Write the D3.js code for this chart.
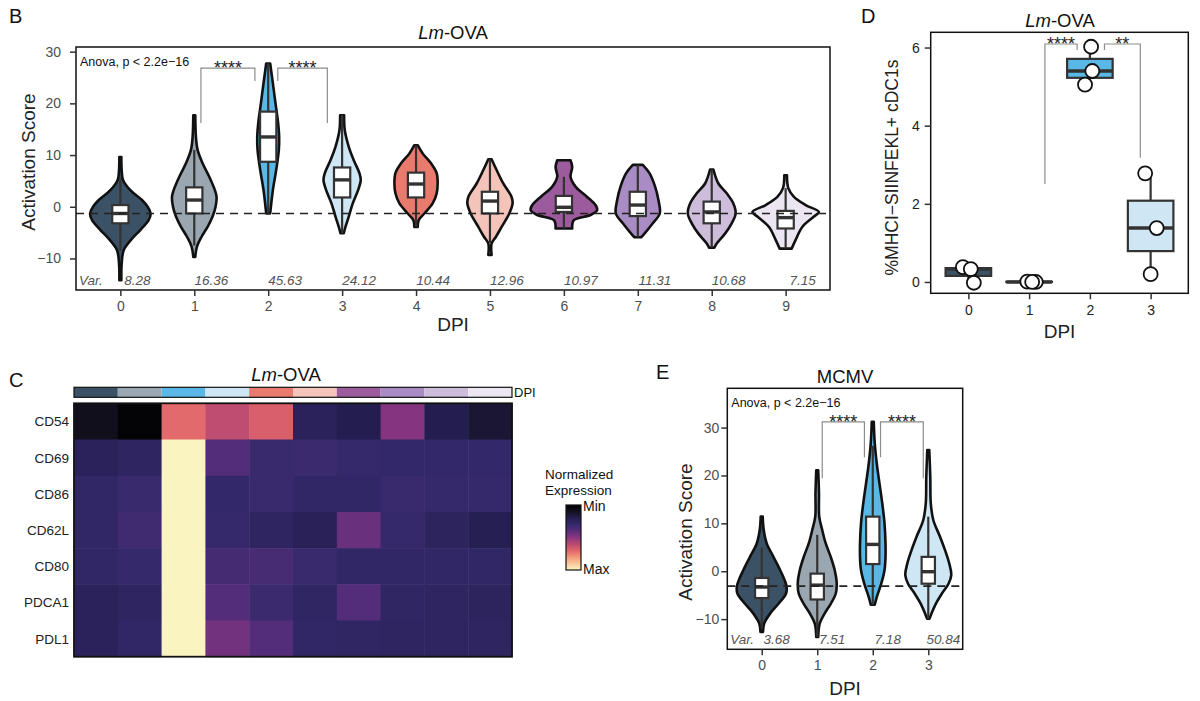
<!DOCTYPE html>
<html>
<head>
<meta charset="utf-8">
<script src="https://cdn.jsdelivr.net/npm/d3@7"></script>
<style>
  body { margin: 0; background: #fff; }
  svg { font-family: "Liberation Sans", Arial, sans-serif; }
</style>
</head>
<body>
<svg id="fig" width="1200" height="701"></svg>
<script>
var svg = d3.select('#fig');

// ---------- data ----------
var dpiB = ["0", "1", "2", "3", "4", "5", "6", "7", "8", "9"];
var dpiColors = ["#3b5266", "#9ba7b0", "#5ab8e6", "#cfe7f5", "#e87b6e",
                 "#f4c4bb", "#9b5b9c", "#a98cc3", "#cdbddb", "#ece6f2"];
var varB = ["8.28", "16.36", "45.63", "24.12", "10.44", "12.96", "10.97", "11.31", "10.68", "7.15"];
// violin outlines: [score, relative half width]
var violinB = [
  [[9.6, 0.03], [7.1, 0.04], [5.2, 0.08], [3.2, 0.3], [1.3, 0.65], [0, 0.82], [-1.3, 0.91], [-2.6, 0.85], [-4.5, 0.6], [-6.4, 0.32], [-8.4, 0.1], [-11, 0.04], [-14.2, 0.03]],
  [[17.7, 0.03], [13.5, 0.05], [11, 0.1], [8.4, 0.25], [5.8, 0.45], [3.2, 0.62], [1.9, 0.67], [0, 0.64], [-1.9, 0.55], [-3.9, 0.4], [-5.8, 0.22], [-7.7, 0.08], [-9.7, 0.03]],
  [[27.7, 0.06], [23.9, 0.14], [20, 0.22], [16.1, 0.3], [13.5, 0.33], [11, 0.32], [7.1, 0.24], [3.2, 0.14], [-1.3, 0.06]],
  [[17.7, 0.06], [14.8, 0.08], [11.6, 0.2], [9, 0.35], [6.5, 0.52], [5.2, 0.56], [3.2, 0.48], [0.65, 0.32], [-1.9, 0.2], [-3.9, 0.1], [-5.1, 0.05]],
  [[11.9, 0.05], [10.3, 0.2], [8.4, 0.45], [6.5, 0.62], [4.5, 0.65], [2.6, 0.62], [0.65, 0.5], [-1.3, 0.25], [-2.6, 0.08], [-3.9, 0.05]],
  [[9.2, 0.05], [7.1, 0.2], [4.5, 0.4], [1.9, 0.65], [0.65, 0.68], [-1.3, 0.58], [-3.9, 0.35], [-5.8, 0.18], [-7.1, 0.05], [-9.3, 0.05]],
  [[9.0, 0.2], [7.7, 0.25], [5.8, 0.2], [3.9, 0.35], [1.9, 0.7], [0.33, 0.95], [-0.64, 1.0], [-1.6, 0.8], [-2.6, 0.3], [-4.2, 0.25]],
  [[8.1, 0.15], [6.5, 0.35], [3.9, 0.52], [1.3, 0.62], [-1.3, 0.66], [-3.2, 0.45], [-5.2, 0.2], [-5.9, 0.1]],
  [[7.2, 0.05], [4.5, 0.2], [2.6, 0.45], [0.65, 0.65], [-1.3, 0.72], [-3.2, 0.6], [-5.2, 0.4], [-7.1, 0.15], [-7.9, 0.08]],
  [[6.1, 0.04], [3.6, 0.08], [1.9, 0.25], [0.33, 0.6], [-1.0, 1.0], [-1.9, 0.85], [-3.9, 0.5], [-6.4, 0.3], [-8.1, 0.18]]
];
// [whisker low, q1, median, q3, whisker high]
var boxB = [
  [-8.5, -3.2, -1.3, 0.33, 5.6], [-7.5, -1.3, 1.3, 3.75, 11], [-1.3, 8.7, 13.5, 18.4, 27.7],
  [-5.1, 1.8, 5.2, 7.6, 17.7], [-3.9, 1.8, 4.4, 6.6, 11.9], [-7.0, -1.3, 1.1, 2.9, 9.2],
  [-4.2, -1.0, -0.1, 2.1, 5.8], [-5.9, -1.8, 0.33, 2.9, 8.1], [-7.9, -3.2, -1.0, 1.0, 7.2],
  [-8.1, -4.2, -2.1, -0.8, 3.6]
];
var sigB = [
  { a: 1.09, b: 1.82, top: 26.8, ya: 16.2, yb: 24.3, label: "****" },
  { a: 2.13, b: 2.80, top: 26.8, ya: 24.3, yb: 16.2, label: "****" }
];
var refB = -1.3;

var dpiE = ["0", "1", "2", "3"];
var varE = ["3.68", "7.51", "7.18", "50.84"];
var violinE = [
  [[11.4, 0.04], [8.6, 0.08], [5.8, 0.2], [3.0, 0.47], [0.2, 0.74], [-1.9, 0.92], [-3.3, 1.0], [-4.7, 0.97], [-6.8, 0.67], [-8.8, 0.34], [-10.9, 0.1], [-12.7, 0.05]],
  [[21.1, 0.04], [16.3, 0.07], [11.4, 0.08], [8.6, 0.2], [5.8, 0.34], [3.0, 0.54], [0.2, 0.7], [-2.6, 0.78], [-4.7, 0.74], [-6.8, 0.54], [-8.8, 0.3], [-10.9, 0.1], [-13.7, 0.04]],
  [[31.2, 0.04], [26.7, 0.08], [22.5, 0.16], [18.3, 0.27], [14.2, 0.38], [10.0, 0.47], [5.8, 0.51], [3.0, 0.51], [0.2, 0.47], [-2.6, 0.34], [-5.4, 0.16], [-7.0, 0.08]],
  [[25.3, 0.04], [19.7, 0.08], [14.2, 0.1], [10.7, 0.2], [7.2, 0.47], [4.4, 0.67], [1.6, 0.84], [-0.8, 0.92], [-2.6, 0.81], [-4.7, 0.54], [-6.8, 0.3], [-8.8, 0.13], [-9.9, 0.05]]
];
var boxE = [
  [-11.9, -5.6, -3.3, -1.4, 4.9], [-13.7, -5.9, -2.9, -0.5, 7.6],
  [-7.0, 1.5, 5.6, 11.4, 26.2], [-9.9, -2.6, -0.1, 3.0, 11.4]
];
var sigE = [
  { a: 1.09, b: 1.85, top: 31.2, ya: 19.4, yb: 23.8, label: "****" },
  { a: 2.14, b: 2.91, top: 31.2, ya: 23.8, yb: 19.4, label: "****" }
];
var refE = -3.1;

var markersC = ["CD54", "CD69", "CD86", "CD62L", "CD80", "PDCA1", "PDL1"];
var exprC = [
  [0.09, 0.02, 0.71, 0.61, 0.68, 0.24, 0.20, 0.49, 0.20, 0.14],
  [0.24, 0.26, 1.00, 0.38, 0.31, 0.32, 0.30, 0.29, 0.29, 0.29],
  [0.28, 0.31, 1.00, 0.29, 0.31, 0.28, 0.28, 0.31, 0.30, 0.30],
  [0.28, 0.33, 1.00, 0.30, 0.26, 0.23, 0.43, 0.30, 0.25, 0.21],
  [0.28, 0.30, 1.00, 0.34, 0.35, 0.31, 0.28, 0.28, 0.28, 0.28],
  [0.24, 0.26, 1.00, 0.38, 0.32, 0.27, 0.38, 0.27, 0.26, 0.25],
  [0.24, 0.28, 1.00, 0.45, 0.38, 0.28, 0.27, 0.26, 0.26, 0.26]
];
var heatStops = [0, 0.1, 0.2, 0.3, 0.4, 0.5, 0.6, 0.7, 0.8, 0.9, 1];
var heatColors = ["#000000", "#14111f", "#241e50", "#35296c", "#5a2e7c", "#8a3680",
                  "#bb4a72", "#e0646a", "#f3967a", "#f9c79a", "#faf5c0"];

var dpiD = ["0", "1", "2", "3"];
var pctD = [[0.38, 0.33, -0.02], [0.01, 0.0, 0.0], [6.02, 5.40, 5.05], [2.78, 1.38, 0.20]];
var jitterD = [[-0.09, 0.04, 0.09], [-0.03, 0.11, 0.05], [0.02, 0.04, -0.08], [-0.09, 0.1, 0.0]];
var sigD = [
  { a: 1.26, b: 1.79, top: 6.09, ya: 2.51, yb: 5.94, label: "****" },
  { a: 2.24, b: 2.83, top: 6.09, ya: 5.94, yb: 3.18, label: "**" }
];

// ---------- helpers ----------
function styleAxis(g, color, size) {
  g.select('.domain').remove();
  g.selectAll('.tick line').attr('stroke', '#333').attr('stroke-width', 1.5);
  g.selectAll('.tick text').attr('fill', color).style('font-size', size + 'px');
}

function lmTitle(x, y) {
  var t = svg.append('text').attr('x', x).attr('y', y).attr('text-anchor', 'middle')
    .style('font-size', '18.5px').attr('fill', '#111');
  t.append('tspan').style('font-style', 'italic').text('Lm');
  t.append('tspan').text('-OVA');
}

function panelLetter(s, x, y) {
  svg.append('text').attr('x', x).attr('y', y).text(s)
    .style('font-size', '20px').attr('fill', '#111');
}

function brackets(g, list, u, y) {
  list.forEach(function(s) {
    var xa = u(s.a), xb = u(s.b);
    g.append('path')
      .attr('d', 'M' + xa + ',' + y(s.ya) + 'V' + y(s.top) + 'H' + xb + 'V' + y(s.yb))
      .attr('fill', 'none').attr('stroke', '#8c8c8c').attr('stroke-width', 1.2);
    g.append('text').attr('x', (xa + xb) / 2).attr('y', y(s.top) + 6)
      .attr('text-anchor', 'middle').style('font-size', '18px').attr('fill', '#222').text(s.label);
  });
}

function violinPanel(c) {
  var g = svg.append('g');
  var x = d3.scalePoint().domain(c.cats).range([c.left, c.right]).padding(c.pad);
  var y = d3.scaleLinear().domain(c.yDomain).range([c.bottom, c.top]);
  var step = x.step();
  var u = d3.scaleLinear().domain([0, c.cats.length - 1])
    .range([x(c.cats[0]), x(c.cats[c.cats.length - 1])]);
  var hw = 0.45 * step;

  c.violins.forEach(function(prof, i) {
    var cx = x(c.cats[i]);
    var area = d3.area().curve(d3.curveCatmullRom)
      .y(function(d) { return y(d[0]); })
      .x0(function(d) { return cx - d[1] * hw; })
      .x1(function(d) { return cx + d[1] * hw; });
    g.append('path').attr('d', area(prof))
      .attr('fill', c.colors[i]).attr('stroke', '#111').attr('stroke-width', 2.6)
      .attr('stroke-linejoin', 'round');
  });

  c.boxes.forEach(function(b, i) {
    var cx = x(c.cats[i]), bw = c.boxFrac * step;
    g.append('line').attr('x1', cx).attr('x2', cx).attr('y1', y(b[0])).attr('y2', y(b[4]))
      .attr('stroke', '#333').attr('stroke-width', 2.2);
    g.append('rect').attr('x', cx - bw / 2).attr('y', y(b[3]))
      .attr('width', bw).attr('height', y(b[1]) - y(b[3]))
      .attr('fill', '#fff').attr('stroke', '#333').attr('stroke-width', 2.2);
    g.append('line').attr('x1', cx - bw / 2).attr('x2', cx + bw / 2)
      .attr('y1', y(b[2])).attr('y2', y(b[2]))
      .attr('stroke', '#333').attr('stroke-width', 3.4);
  });

  g.append('line').attr('x1', c.left).attr('x2', c.right)
    .attr('y1', y(c.ref)).attr('y2', y(c.ref))
    .attr('stroke', '#222').attr('stroke-width', 1.6).attr('stroke-dasharray', '8,6');

  brackets(g, c.sig, u, y);

  g.append('text').attr('x', c.left + 4).attr('y', c.top + 19)
    .style('font-size', '12.5px').attr('fill', '#111').text('Anova, p < 2.2e\u221216');

  g.append('text').attr('x', c.left + 3).attr('y', c.bottom - 5)
    .style('font-size', '13.5px').style('font-style', 'italic').attr('fill', '#555').text('Var.');
  c.vars.forEach(function(v, i) {
    g.append('text').attr('x', x(c.cats[i]) + c.varOffset).attr('y', c.bottom - 5)
      .attr('text-anchor', 'middle').style('font-size', '13.5px').style('font-style', 'italic')
      .attr('fill', '#555').text(v);
  });

  g.append('rect').attr('x', c.left).attr('y', c.top)
    .attr('width', c.right - c.left).attr('height', c.bottom - c.top)
    .attr('fill', 'none').attr('stroke', '#111').attr('stroke-width', 1.5);

  var ya = g.append('g').attr('transform', 'translate(' + c.left + ',0)')
    .call(d3.axisLeft(y).tickValues(c.yTicks).tickSize(6).tickPadding(c.yPad));
  styleAxis(ya, '#4d4d4d', 14);
  var xa = g.append('g').attr('transform', 'translate(0,' + c.bottom + ')')
    .call(d3.axisBottom(x).tickSize(6).tickPadding(5));
  styleAxis(xa, '#4d4d4d', 14);

  g.append('text').attr('transform', 'translate(' + c.yTitleX + ',' + c.yTitleY + ') rotate(-90)')
    .attr('text-anchor', 'middle').style('font-size', '19px').attr('fill', '#222').text('Activation Score');
  g.append('text').attr('x', (c.left + c.right) / 2).attr('y', c.xTitleY)
    .attr('text-anchor', 'middle').style('font-size', '19px').attr('fill', '#222').text('DPI');
}

// ---------- panel B ----------
panelLetter('B', 9, 23);
lmTitle(453, 39);
violinPanel({
  cats: dpiB, left: 76, right: 830, top: 47, bottom: 290, pad: 0.6,
  yDomain: [-16.1, 30.9], yTicks: [-10, 0, 10, 20, 30], yPad: 9,
  violins: violinB, boxes: boxB, colors: dpiColors, vars: varB, varOffset: 17,
  sig: sigB, ref: refB, boxFrac: 0.22,
  yTitleX: 35, yTitleY: 162, xTitleY: 331
});

// ---------- panel E ----------
panelLetter('E', 656, 379);
svg.append('text').attr('x', 845).attr('y', 383).attr('text-anchor', 'middle')
  .style('font-size', '18.5px').attr('fill', '#111').text('MCMV');
violinPanel({
  cats: dpiE, left: 727.3, right: 962.7, top: 388.3, bottom: 649.3, pad: 0.62,
  yDomain: [-16.3, 38.2], yTicks: [-10, 0, 10, 20, 30], yPad: 2,
  violins: violinE, boxes: boxE, colors: dpiColors, vars: varE, varOffset: 15,
  sig: sigE, ref: refE, boxFrac: 0.24,
  yTitleX: 692, yTitleY: 532, xTitleY: 695
});

// ---------- panel C ----------
panelLetter('C', 9, 387);
lmTitle(286, 381);
var heatColor = d3.scaleLinear().domain(heatStops).range(heatColors).interpolate(d3.interpolateRgb);
var hx = d3.scaleBand().domain(dpiB).range([74, 512]);
var hy = d3.scaleBand().domain(markersC).range([403.3, 656.7]);
var gC = svg.append('g');
gC.selectAll('.annot').data(dpiB).enter().append('rect')
  .attr('x', function(d) { return hx(d); }).attr('y', 387.3)
  .attr('width', hx.bandwidth()).attr('height', 10)
  .attr('fill', function(d, i) { return dpiColors[i]; });
gC.append('rect').attr('x', 74).attr('y', 387.3).attr('width', 438).attr('height', 10)
  .attr('fill', 'none').attr('stroke', '#111').attr('stroke-width', 1.2);
gC.append('text').attr('x', 514).attr('y', 397).style('font-size', '13px').attr('fill', '#111').text('DPI');
exprC.forEach(function(row, r) {
  gC.selectAll('.r' + r).data(row).enter().append('rect')
    .attr('x', function(d, i) { return hx(dpiB[i]); })
    .attr('y', hy(markersC[r]))
    .attr('width', hx.bandwidth() + 0.5).attr('height', hy.bandwidth() + 0.5)
    .attr('fill', function(d) { return heatColor(d); });
});
gC.append('rect').attr('x', 74).attr('y', 403.3).attr('width', 438).attr('height', 253.4)
  .attr('fill', 'none').attr('stroke', '#111').attr('stroke-width', 1.8);
markersC.forEach(function(m) {
  gC.append('text').attr('x', 69).attr('y', hy(m) + hy.bandwidth() / 2 + 5)
    .attr('text-anchor', 'end').style('font-size', '13.5px').attr('fill', '#222').text(m);
});

// legend
var grad = svg.append('defs').append('linearGradient').attr('id', 'heatGrad')
  .attr('x1', 0).attr('x2', 0).attr('y1', 0).attr('y2', 1);
heatStops.forEach(function(s, i) {
  grad.append('stop').attr('offset', s).attr('stop-color', heatColors[i]);
});
svg.append('text').attr('x', 545).attr('y', 479).style('font-size', '13.5px').attr('fill', '#111').text('Normalized');
svg.append('text').attr('x', 545).attr('y', 495).style('font-size', '13.5px').attr('fill', '#111').text('Expression');
svg.append('rect').attr('x', 566).attr('y', 505).attr('width', 15).attr('height', 65)
  .attr('fill', 'url(#heatGrad)').attr('stroke', '#111').attr('stroke-width', 1.2);
svg.append('text').attr('x', 583).attr('y', 511).style('font-size', '14px').attr('fill', '#111').text('Min');
svg.append('text').attr('x', 583).attr('y', 574).style('font-size', '14px').attr('fill', '#111').text('Max');

// ---------- panel D ----------
panelLetter('D', 861, 23);
lmTitle(1060, 27);
(function() {
  var left = 930.7, right = 1188.3, top = 32.3, bottom = 293.3;
  var g = svg.append('g');
  var x = d3.scalePoint().domain(dpiD).range([left, right]).padding(0.62);
  var y = d3.scaleLinear().domain([-0.29, 6.39]).range([bottom, top]);
  var step = x.step();
  var u = d3.scaleLinear().domain([0, 3]).range([x("0"), x("3")]);
  var bw = 0.75 * step;

  pctD.forEach(function(vals, i) {
    var s = vals.slice().sort(d3.ascending);
    var q1 = d3.quantile(s, 0.25), med = d3.quantile(s, 0.5), q3 = d3.quantile(s, 0.75);
    var cx = x(dpiD[i]);
    g.append('line').attr('x1', cx).attr('x2', cx).attr('y1', y(s[0])).attr('y2', y(s[s.length - 1]))
      .attr('stroke', '#333').attr('stroke-width', 2.2);
    g.append('rect').attr('x', cx - bw / 2).attr('y', y(q3)).attr('width', bw)
      .attr('height', Math.max(0, y(q1) - y(q3)))
      .attr('fill', dpiColors[i]).attr('stroke', '#333').attr('stroke-width', 2.2);
    g.append('line').attr('x1', cx - bw / 2).attr('x2', cx + bw / 2).attr('y1', y(med)).attr('y2', y(med))
      .attr('stroke', '#333').attr('stroke-width', 3.4);
  });
  pctD.forEach(function(vals, i) {
    vals.forEach(function(v, j) {
      g.append('circle').attr('cx', x(dpiD[i]) + jitterD[i][j] * step).attr('cy', y(v)).attr('r', 7)
        .attr('fill', '#fff').attr('stroke', '#111').attr('stroke-width', 1.8);
    });
  });

  brackets(g, sigD, u, y);

  g.append('rect').attr('x', left).attr('y', top).attr('width', right - left).attr('height', bottom - top)
    .attr('fill', 'none').attr('stroke', '#111').attr('stroke-width', 1.5);
  var ya = g.append('g').attr('transform', 'translate(' + left + ',0)')
    .call(d3.axisLeft(y).tickValues([0, 2, 4, 6]).tickFormat(d3.format('d')).tickSize(6).tickPadding(5));
  styleAxis(ya, '#222', 14);
  var xa = g.append('g').attr('transform', 'translate(0,' + bottom + ')')
    .call(d3.axisBottom(x).tickSize(6).tickPadding(6));
  styleAxis(xa, '#222', 14);

  g.append('text').attr('transform', 'translate(898,167.5) rotate(-90)').attr('text-anchor', 'middle')
    .style('font-size', '17.5px').attr('fill', '#222').text('%MHCI\u2212SIINFEKL+ cDC1s');
  g.append('text').attr('x', (left + right) / 2).attr('y', 338).attr('text-anchor', 'middle')
    .style('font-size', '19px').attr('fill', '#222').text('DPI');
})();
</script>
</body>
</html>
